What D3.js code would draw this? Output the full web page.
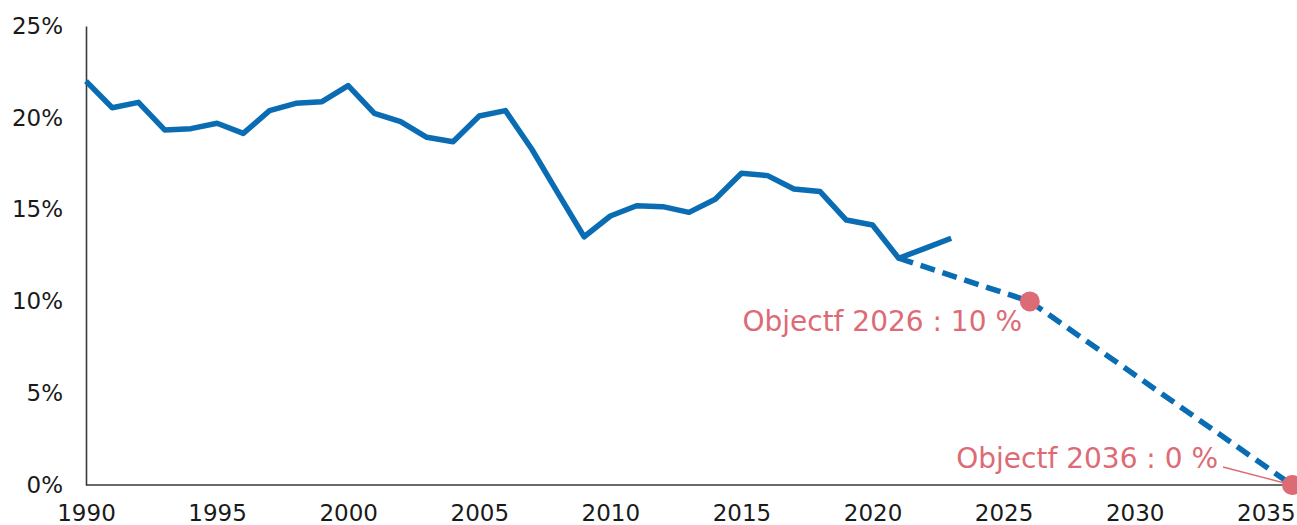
<!DOCTYPE html>
<html>
<head>
<meta charset="utf-8">
<script src="https://cdn.jsdelivr.net/npm/d3@7"></script>
<style>
  html, body { margin: 0; padding: 0; background: #fff; }
  svg { display: block; }
</style>
</head>
<body>
<svg id="chart" width="1297" height="525"></svg>
<script>
// Observed share, 1990–2023 (%)
const years = [1990,1991,1992,1993,1994,1995,1996,1997,1998,1999,2000,2001,2002,2003,2004,2005,2006,2007,2008,2009,2010,2011,2012,2013,2014,2015,2016,2017,2018,2019,2020,2021,2022,2023];
const shares = [22.0,20.55,20.84,19.34,19.41,19.70,19.15,20.39,20.79,20.88,21.75,20.24,19.79,18.94,18.70,20.10,20.39,18.30,15.90,13.52,14.65,15.21,15.16,14.85,15.56,16.98,16.85,16.12,15.98,14.43,14.16,12.35,12.89,13.44];

// Target trajectory
const targetYears = [2021, 2026, 2036];
const targetShares = [12.35, 10, 0];

// Targets marked with a dot and a label
const goalYears = [2026, 2036];
const goalShares = [10, 0];
const goalLabels = ["Objectf 2026 : 10 %", "Objectf 2036 : 0 %"];

// Axis ticks
const xTicks = [1990,1995,2000,2005,2010,2015,2020,2025,2030,2035];
const yTicks = [0,5,10,15,20,25];

const svg = d3.select("#chart");
const blue = "#0a6db3";
const pink = "#dd6b76";

const x = d3.scaleLinear().domain([1990, 2036]).range([86, 1292]);
const y = d3.scaleLinear().domain([0, 25]).range([485, 26]);

// Y axis: line plus percent labels
const yAxis = svg.append("g")
  .attr("transform", `translate(${x(1990)},0)`)
  .call(d3.axisLeft(y).tickValues(yTicks).tickSize(0).tickPadding(23).tickFormat(d => d + "%"));
yAxis.select(".domain").attr("stroke", "#3a3a3a").attr("stroke-width", 1.6);
yAxis.selectAll("text")
  .attr("font-family", "DejaVu Sans")
  .attr("font-size", 23)
  .attr("fill", "#1a1a1a");

// X axis: baseline runs to the right edge
svg.append("line")
  .attr("x1", x(1990)).attr("x2", 1297)
  .attr("y1", y(0)).attr("y2", y(0))
  .attr("stroke", "#3a3a3a").attr("stroke-width", 1.6);

const xAxis = svg.append("g")
  .attr("transform", `translate(0,${y(0)})`)
  .call(d3.axisBottom(x).tickValues(xTicks).tickSize(0).tickPadding(20).tickFormat(d3.format("d")));
xAxis.select(".domain").remove();
xAxis.selectAll("text")
  .attr("font-family", "DejaVu Sans")
  .attr("font-size", 23)
  .attr("fill", "#1a1a1a");

// Target trajectory (dashed)
const targetData = targetYears.map((yr, i) => ({ year: yr, v: targetShares[i] }));
svg.append("path")
  .datum(targetData)
  .attr("fill", "none")
  .attr("stroke", blue)
  .attr("stroke-width", 5.5)
  .attr("stroke-dasharray", "15,8")
  .attr("d", d3.line().x(d => x(d.year)).y(d => y(d.v)));

// Observed series (solid)
const seriesData = years.map((yr, i) => ({ year: yr, v: shares[i] }));
svg.append("path")
  .datum(seriesData)
  .attr("fill", "none")
  .attr("stroke", blue)
  .attr("stroke-width", 5.5)
  .attr("stroke-linejoin", "round")
  .attr("d", d3.line().x(d => x(d.year)).y(d => y(d.v)));

// Leader line for the 2036 label
svg.append("line")
  .attr("x1", 1223).attr("y1", 467)
  .attr("x2", x(2036)).attr("y2", y(0))
  .attr("stroke", pink).attr("stroke-width", 1.3);

// Target dots
svg.selectAll("circle.goal")
  .data(goalYears.map((yr, i) => ({ year: yr, v: goalShares[i] })))
  .join("circle")
  .attr("class", "goal")
  .attr("cx", d => x(d.year))
  .attr("cy", d => y(d.v))
  .attr("r", 10)
  .attr("fill", pink);

// Target labels
const labelPos = [
  { xr: 1022, yb: 331 },
  { xr: 1218, yb: 468 }
];
svg.selectAll("text.goal")
  .data(goalLabels)
  .join("text")
  .attr("class", "goal")
  .attr("x", (d, i) => labelPos[i].xr)
  .attr("y", (d, i) => labelPos[i].yb)
  .attr("text-anchor", "end")
  .attr("font-family", "DejaVu Sans")
  .attr("font-size", 28)
  .attr("fill", pink)
  .text(d => d);
</script>
</body>
</html>
